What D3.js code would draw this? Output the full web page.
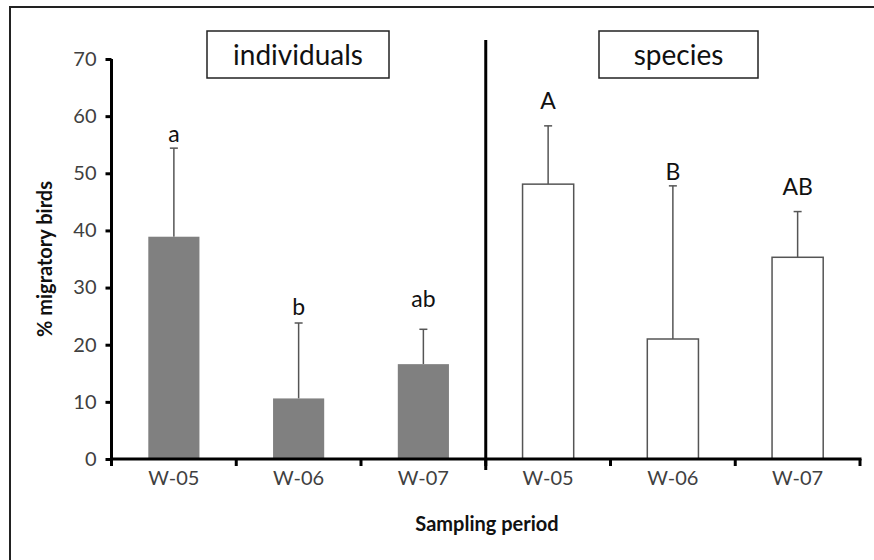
<!DOCTYPE html>
<html>
<head>
<meta charset="utf-8">
<script src="https://cdn.jsdelivr.net/npm/d3@7"></script>
<style>
body { margin: 0; background: #fff; }
text { font-family: Lato, "Open Sans", sans-serif; }
</style>
</head>
<body>
<script>
var width = 874, height = 560;

// data
var periods = ['W-05', 'W-06', 'W-07'];
var panels = ['individuals', 'species'];
var indivMean = [38.9, 10.6, 16.6];
var indivErr = [54.4, 23.8, 22.7];
var indivLetters = ['a', 'b', 'ab'];
var indivLabelAt = [55.5, 25.2, 26.6];
var specMean = [48.1, 21.0, 35.3];
var specErr = [58.3, 47.8, 43.3];
var specLetters = ['A', 'B', 'AB'];
var specLabelAt = [61.2, 48.8, 46.2];
var yTicks = [0, 10, 20, 30, 40, 50, 60, 70];

var svg = d3.select('body').append('svg').attr('width', width).attr('height', height);

// outer frame
svg.append('rect').attr('x', 10).attr('y', 7).attr('width', 900).attr('height', 600)
  .attr('fill', 'none').attr('stroke', '#222').attr('stroke-width', 2);

var plotLeft = 111.5, plotRight = 860, plotTop = 59, plotBottom = 459;

// one band per bar, six in total
var keys = [];
panels.forEach(function(p) { periods.forEach(function(c) { keys.push(p + '|' + c); }); });
var x = d3.scaleBand().domain(keys).range([plotLeft, plotRight]).paddingInner(0).paddingOuter(0);
var y = d3.scaleLinear().domain([0, 70]).range([plotBottom, plotTop]);

var bars = [];
periods.forEach(function(c, i) {
  bars.push({key: 'individuals|' + c, label: c, mean: indivMean[i], err: indivErr[i], letter: indivLetters[i], at: indivLabelAt[i], fill: '#808080', stroke: 'none'});
});
periods.forEach(function(c, i) {
  bars.push({key: 'species|' + c, label: c, mean: specMean[i], err: specErr[i], letter: specLetters[i], at: specLabelAt[i], fill: '#fff', stroke: '#555'});
});

var bw = x.bandwidth() * 0.41;

// error bars (upper only)
var eb = svg.append('g');
bars.forEach(function(d) {
  var cx = x(d.key) + x.bandwidth() / 2;
  eb.append('line').attr('x1', cx).attr('x2', cx).attr('y1', y(d.mean)).attr('y2', y(d.err))
    .attr('stroke', '#555').attr('stroke-width', 1.5);
  eb.append('line').attr('x1', cx - 4).attr('x2', cx + 4).attr('y1', y(d.err)).attr('y2', y(d.err))
    .attr('stroke', '#555').attr('stroke-width', 1.5);
});

svg.append('g').selectAll('rect').data(bars).join('rect')
  .attr('x', function(d) { return x(d.key) + (x.bandwidth() - bw) / 2; })
  .attr('y', function(d) { return y(d.mean); })
  .attr('width', bw)
  .attr('height', function(d) { return y(0) - y(d.mean); })
  .attr('fill', function(d) { return d.fill; })
  .attr('stroke', function(d) { return d.stroke; })
  .attr('stroke-width', 1.5);

// significance letters
svg.append('g').selectAll('text').data(bars).join('text')
  .attr('x', function(d) { return x(d.key) + x.bandwidth() / 2; })
  .attr('y', function(d) { return y(d.at); })
  .attr('text-anchor', 'middle')
  .attr('font-size', 23)
  .attr('fill', '#111')
  .text(function(d) { return d.letter; });

// y axis
var yAxis = svg.append('g').attr('transform', 'translate(' + plotLeft + ',0)')
  .call(d3.axisLeft(y).tickValues(yTicks).tickSize(6).tickPadding(9));
yAxis.select('.domain').attr('stroke', '#000').attr('stroke-width', 3).attr('d', 'M0,' + plotTop + 'V' + plotBottom);
yAxis.selectAll('.tick line').attr('stroke', '#000').attr('stroke-width', 3);
yAxis.selectAll('.tick text').attr('font-size', 20).attr('fill', '#404040')
  .attr('font-family', 'Lato, "Open Sans", sans-serif');

// x axis: ticks at band edges, labels centred
var edges = keys.map(function(k) { return x(k); }).concat([plotRight]);
var xg = svg.append('g');
xg.append('line').attr('x1', plotLeft - 1.5).attr('x2', plotRight + 1.5).attr('y1', plotBottom).attr('y2', plotBottom)
  .attr('stroke', '#000').attr('stroke-width', 3);
xg.selectAll('.edge').data(edges).join('line').attr('class', 'edge')
  .attr('x1', function(d) { return d; }).attr('x2', function(d) { return d; })
  .attr('y1', plotBottom).attr('y2', plotBottom + 7)
  .attr('stroke', '#000').attr('stroke-width', 3);
xg.selectAll('text').data(bars).join('text')
  .attr('x', function(d) { return x(d.key) + x.bandwidth() / 2; })
  .attr('y', plotBottom + 26)
  .attr('text-anchor', 'middle').attr('font-size', 20).attr('fill', '#404040')
  .text(function(d) { return d.label; });

// panel divider
var divX = x('species|' + periods[0]);
svg.append('line').attr('x1', divX).attr('x2', divX).attr('y1', 40).attr('y2', 470)
  .attr('stroke', '#000').attr('stroke-width', 3);

// panel title boxes
var boxes = [{t: panels[0], x0: 207, x1: 389}, {t: panels[1], x0: 599, x1: 758}];
boxes.forEach(function(b) {
  svg.append('rect').attr('x', b.x0).attr('y', 31).attr('width', b.x1 - b.x0).attr('height', 47)
    .attr('fill', '#fff').attr('stroke', '#222').attr('stroke-width', 1.5);
  svg.append('text').attr('x', (b.x0 + b.x1) / 2).attr('y', 65).attr('text-anchor', 'middle')
    .attr('font-size', 28).attr('fill', '#111').text(b.t);
});

// axis titles
svg.append('text').attr('x', 487).attr('y', 531).attr('text-anchor', 'middle')
  .attr('font-size', 20).attr('font-weight', 'bold').attr('fill', '#111').text('Sampling period');
svg.append('text').attr('transform', 'translate(52,259) rotate(-90)').attr('text-anchor', 'middle')
  .attr('font-size', 20).attr('font-weight', 'bold').attr('fill', '#111').text('% migratory birds');
</script>
</body>
</html>
